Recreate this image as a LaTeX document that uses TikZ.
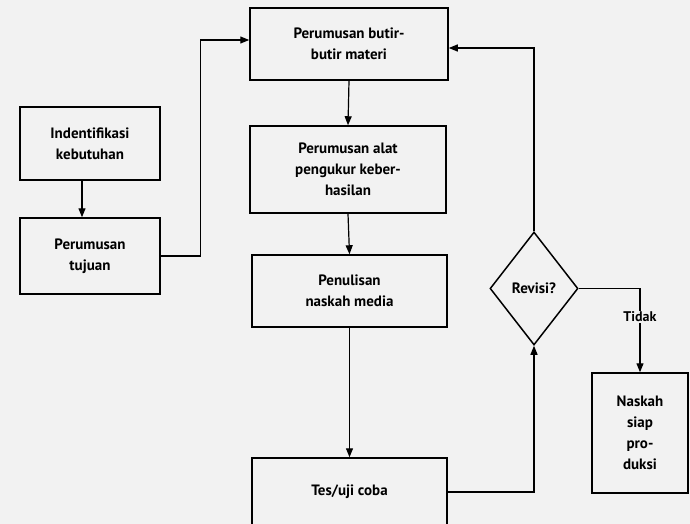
\documentclass[tikz,border=0pt]{standalone}
\usepackage{fontspec}
\setmainfont{PT Sans}
\usetikzlibrary{arrows.meta,shapes.geometric}
\definecolor{paper}{gray}{0.95}
\begin{document}
\begin{tikzpicture}[x=1pt,y=-1pt,
  box/.style={draw, line width=1.5pt, align=center, inner sep=0pt,
    font=\bfseries\fontsize{15}{21}\selectfont},
  arr/.style={line width=1.2pt, -{Triangle[length=9pt,width=7pt]}},
  ln/.style={line width=1.2pt}]
\useasboundingbox (0,0) rectangle (690,524);
\fill[paper] (0,0) rectangle (690,524);
\clip (0,0) rectangle (690,524);
\node[box, minimum width=140pt, minimum height=73pt] (ident) at (90,143.5) {Indentifikasi\\kebutuhan};
\node[box, minimum width=140pt, minimum height=76pt] (tujuan) at (90,256) {Perumusan\\tujuan};
\node[box, minimum width=198pt, minimum height=72pt] (butir) at (349,44) {Perumusan butir-\\butir materi};
\node[box, minimum width=196pt, minimum height=87pt] (alat) at (348,169.5) {Perumusan alat\\pengukur keber-\\hasilan};
\node[box, minimum width=195pt, minimum height=72pt] (tulis) at (349.5,291) {Penulisan\\naskah media};
\node[box, minimum width=195pt, minimum height=68pt] (tes) at (349.5,492) {Tes/uji coba};
\node[box, shape=diamond, minimum width=88pt, minimum height=113pt] (rev) at (534,288.5) {Revisi?};
\node[box, minimum width=96pt, minimum height=120pt] (naskah) at (640,433) {Naskah\\siap\\pro-\\duksi};

\draw[arr] ([xshift=-8pt]ident.south) -- ([xshift=-8pt]tujuan.north);
\draw[arr] (tujuan.east) -- ++(40,0) |- ([yshift=4pt]butir.west);
\draw[arr] (butir.south) -- (alat.north);
\draw[arr] (alat.south) -- (tulis.north);
\draw[arr] (tulis.south) -- (tes.north);
\draw[arr] (tes.east) -| (rev.south);
\draw[arr] (rev.east) -| node[pos=0.67, fill=paper, inner sep=1pt, font=\bfseries\fontsize{14}{16}\selectfont] {Tidak} (naskah.north);
\draw[arr] (rev.north) |- ([yshift=-4pt]butir.east);
\end{tikzpicture}
\end{document}
